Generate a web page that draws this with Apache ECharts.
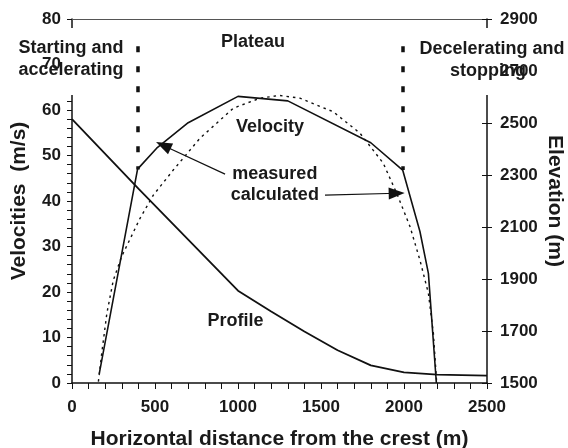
<!DOCTYPE html>
<html>
<head>
<meta charset="utf-8">
<script src="https://cdn.jsdelivr.net/npm/echarts@6/dist/echarts.min.js"></script>
<style>
html,body{margin:0;padding:0;background:#fff;}
#c{width:568px;height:448px;}
</style>
</head>
<body>
<div id="c"></div>
<script>
const profileX = [0, 400, 1000, 1200, 1400, 1600, 1800, 2000, 2200, 2500];
const profileElev = [2515, 2248, 1855, 1775, 1698, 1626, 1568, 1541, 1532, 1528];
const measuredX = [164, 395, 510, 700, 1000, 1300, 1800, 1992, 2096, 2147, 2195];
const measuredV = [2, 47, 51.6, 57.2, 63, 62, 52.8, 46.8, 33.3, 24.1, 0];
const calculatedX = [159, 180, 210, 249, 299, 410, 490, 610, 771, 972, 1133, 1250, 1373, 1574, 1735, 1875, 1956, 2036, 2096, 2147, 2177, 2197];
const calculatedV = [0.3, 6.8, 15.3, 22.6, 27.8, 36.2, 41.3, 46.8, 53.8, 60.4, 62.6, 63.2, 62.6, 59.6, 54.9, 48.3, 41.7, 34.4, 27, 19.7, 10.9, 0];
const xTicks = [0, 500, 1000, 1500, 2000, 2500];
const velTicks = [0, 10, 20, 30, 40, 50, 60, 70, 80];
const elevTicks = [1500, 1700, 1900, 2100, 2300, 2500, 2700, 2900];
const zoneBounds = [[395, 74, 46.9], [1992, 74, 46.8]];
const arrows = [[922, 45.9, 550, 52.2], [1524, 41.3, 1956, 41.7]];
const annotations = [
  ['Plateau', 1090, 74.9],
  ['Velocity', 1193, 56.2],
  ['measured', 1222, 45.9],
  ['calculated', 1222, 41.3],
  ['Profile', 985, 13.6]
];

const FONT = '"Liberation Sans", Arial, Helvetica, sans-serif';
const TXT = '#1a1a1a';
const LINE = '#111';
function pairs(xs, ys){ return xs.map((x,i)=>[x, ys[i]]); }
const plain = v => String(v);

const chart = echarts.init(document.getElementById('c'));
const tickLabel = {fontSize:17, fontWeight:'bold', fontFamily:FONT, color:TXT, formatter:plain};

const option = {
  animation:false,
  backgroundColor:'#fff',
  grid:{left:72, right:81, top:19, bottom:65, containLabel:false, outerBoundsMode:'none'},
  xAxis:[{
    type:'value', min:xTicks[0], max:xTicks[xTicks.length-1], interval:500,
    name:'Horizontal distance from the crest (m)', nameLocation:'middle', nameGap:46,
    nameTextStyle:{fontSize:21, fontWeight:'bold', fontFamily:FONT, color:TXT},
    axisLine:{show:true, onZero:false, lineStyle:{color:LINE, width:1.5}},
    axisTick:{show:true, length:6, lineStyle:{color:LINE, width:1}},
    minorTick:{show:true, splitNumber:5, length:6, lineStyle:{color:LINE, width:1}},
    axisLabel:Object.assign({margin:16}, tickLabel),
    splitLine:{show:false}, minorSplitLine:{show:false}
  },{
    type:'value', position:'top', min:0, max:2500,
    axisLine:{show:true, onZero:false, lineStyle:{color:'#555', width:1}},
    axisTick:{show:false}, axisLabel:{show:false}, splitLine:{show:false}
  }],
  yAxis:[{
    type:'value', position:'left', min:velTicks[0], max:velTicks[velTicks.length-1], interval:10, z:0,
    name:'Velocities  (m/s)', nameLocation:'middle', nameGap:42,
    nameTextStyle:{fontSize:21, fontWeight:'bold', fontFamily:FONT, color:TXT},
    axisLine:{show:true, onZero:false, lineStyle:{color:LINE, width:1.5}},
    axisTick:{show:true, length:5, lineStyle:{color:LINE, width:1}},
    minorTick:{show:true, splitNumber:5, length:5, lineStyle:{color:LINE, width:1}},
    axisLabel:{show:false}, splitLine:{show:false}, minorSplitLine:{show:false}
  },{
    type:'value', position:'right', min:elevTicks[0], max:elevTicks[elevTicks.length-1], interval:200, z:0,
    name:'Elevation (m)', nameLocation:'middle', nameGap:57, nameRotate:-90,
    nameTextStyle:{fontSize:21, fontWeight:'bold', fontFamily:FONT, color:TXT},
    axisLine:{show:true, onZero:false, lineStyle:{color:LINE, width:1.5}},
    axisTick:{show:true, length:5, lineStyle:{color:LINE, width:1}},
    axisLabel:{show:false}, splitLine:{show:false}
  },{
    type:'value', position:'left', min:0, max:80, interval:10, z:100,
    axisLine:{show:false}, axisTick:{show:false}, splitLine:{show:false},
    axisLabel:Object.assign({margin:11}, tickLabel)
  },{
    type:'value', position:'right', min:1500, max:2900, interval:200, z:100,
    axisLine:{show:false}, axisTick:{show:false}, splitLine:{show:false},
    axisLabel:Object.assign({margin:13}, tickLabel)
  },{
    type:'value', position:'right', min:1500, max:2900, interval:200, z:0,
    axisLine:{show:false}, axisTick:{show:true, inside:true, length:5, lineStyle:{color:LINE, width:1}},
    axisLabel:{show:false}, splitLine:{show:false}
  }],
  series:[{
    name:'Profile', type:'line', xAxisIndex:0, yAxisIndex:1,
    data:pairs(profileX, profileElev), showSymbol:false, symbol:'none',
    lineStyle:{color:LINE, width:1.8}
  },{
    name:'measured', type:'line', xAxisIndex:0, yAxisIndex:0,
    data:pairs(measuredX, measuredV), showSymbol:false, symbol:'none',
    lineStyle:{color:LINE, width:1.6},
    markLine:{
      silent:true, animation:false, symbol:['none','none'], label:{show:false},
      lineStyle:{color:LINE, width:3.5, type:[6,14]},
      data: zoneBounds.map(b => [{coord:[b[0], b[1]]}, {coord:[b[0], b[2]]}])
    }
  },{
    name:'calculated', type:'line', xAxisIndex:0, yAxisIndex:0,
    data:pairs(calculatedX, calculatedV), showSymbol:false, symbol:'none',
    lineStyle:{color:LINE, width:1.4, type:[2.5,4]},
    markLine:{
      silent:true, animation:false, label:{show:false},
      symbol:['none','triangle'], symbolSize:[12,16],
      lineStyle:{color:LINE, width:1.2, type:'solid'},
      emphasis:{disabled:true},
      data: arrows.map(a => [{coord:[a[0], a[1]]}, {coord:[a[2], a[3]]}])
    }
  }]
};
chart.setOption(option);

const graphics = [];
graphics.push({type:'rect', z:50, shape:{x:12, y:28, width:120, height:67}, style:{fill:'#fff'}});
graphics.push({type:'rect', z:50, shape:{x:412, y:28, width:156, height:67}, style:{fill:'#fff'}});
function txt(text, x, y, size, align){
  return {type:'text', z:60, x:x, y:y, style:{text:text, fill:TXT, fontSize:size||18, fontWeight:'bold',
    fontFamily:FONT, align:align||'center', verticalAlign:'middle'}};
}
graphics.push(txt('Starting and', 71, 48));
graphics.push(txt('accelerating', 71, 70));
graphics.push(txt('Decelerating and', 492, 49));
graphics.push(txt('stopping', 488, 71));
annotations.forEach(a => {
  const p = chart.convertToPixel({xAxisIndex:0, yAxisIndex:0}, [a[1], a[2]]);
  graphics.push(txt(a[0], p[0], p[1]));
});
chart.setOption({graphic:{elements:graphics}});
</script>
</body>
</html>
